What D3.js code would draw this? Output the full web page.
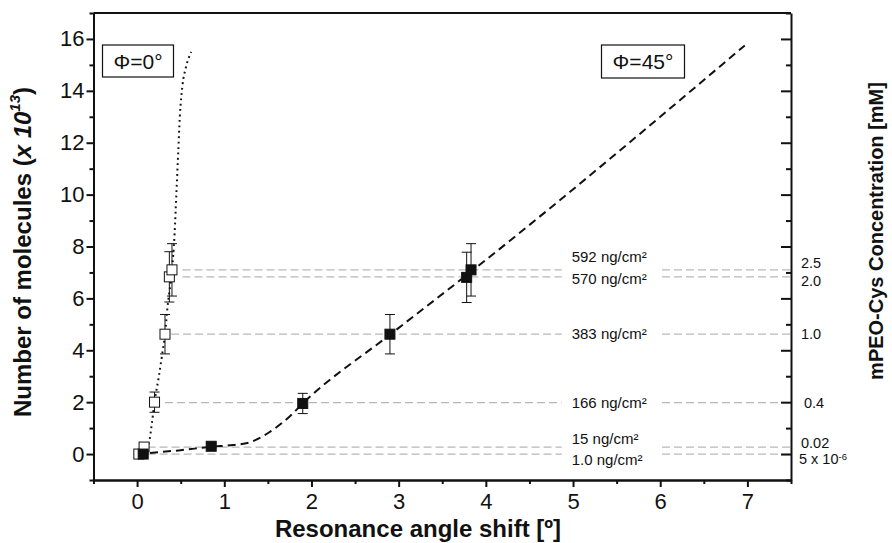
<!DOCTYPE html>
<html><head><meta charset="utf-8">
<script src="https://cdn.jsdelivr.net/npm/d3@7"></script>
<style>body{margin:0;background:#fff} svg text{font-family:"Liberation Sans",Arial,sans-serif;fill:#111}</style>
</head><body><svg id="c" width="892" height="543"></svg>
<script>
// ---- data ----
const xMajorTicks = [0,1,2,3,4,5,6,7];
const xMinorTicks = [-0.5,0.5,1.5,2.5,3.5,4.5,5.5,6.5,7.5];
const yMajorTicks = [0,2,4,6,8,10,12,14,16];
const yMinorTicks = [-1,1,3,5,7,9,11,13,15,17];
const rightTicks = [-1,0,1,2,3,4,5,6,7,8,9,10,11,12,13,14,15,16,17];

const phi0X = [0.02,0.08,0.20,0.32,0.37,0.40];
const phi0Y = [0.00,0.27,2.00,4.62,6.83,7.10];
const phi45X = [0.07,0.85,1.90,2.90,3.78,3.83];
const phi45Y = [0.00,0.30,1.95,4.62,6.81,7.10];
const errY = [0.05,0.10,0.39,0.76,0.97,1.01];

const fit0X = [0,0.06,0.10,0.14,0.17,0.20,0.25,0.29,0.32,0.35,0.38,0.40,0.43,0.45,0.47,0.49,0.52,0.56,0.62];
const fit0Y = [0,0.05,0.20,0.50,1.20,2.00,3.00,3.90,4.60,5.70,6.50,7.10,8.50,10.0,11.5,13.0,14.2,14.9,15.5];
const fit45X = [0,0.5,0.85,1.10,1.29,1.52,1.75,1.90,2.90,3.80,6.97];
const fit45Y = [0,0.15,0.28,0.35,0.45,0.85,1.45,1.95,4.60,6.95,15.75];

const levelY = [7.10,6.83,4.62,1.98,0.27,0.00];
const levelStartX = [0.52,0.52,0.39,0.32,0.12,0.12];
const massLabels = ["592 ng/cm²","570 ng/cm²","383 ng/cm²","166 ng/cm²","15 ng/cm²","1.0 ng/cm²"];
const concLabels = ["2.5","2.0","1.0","0.4","0.02","5 x 10"];
const concSup = ["","","","","","-6"];

// ---- styling / layout ----
const massDy = [-13,2,0,0,-8,6];
const concDy = [-6.5,4,0,0,-4,5];
const concDx = [0,0,0,3,0,-2];
const gapX = [4.87,6.02];

const svg = d3.select("#c");
const L=93.5, R=791, T=13, B=480;
const x = d3.scaleLinear().domain([-0.5,7.5]).range([L,R]);
const y = d3.scaleLinear().domain([-1,17]).range([B,T]);

// gray reference lines
const gl = svg.append("g").attr("stroke","#b8b8b8").attr("stroke-width",1.3).attr("stroke-dasharray","8,4").attr("fill","none");
levelY.forEach((v,i)=>{
  gl.append("line").attr("x1",x(levelStartX[i])).attr("x2",x(gapX[0])).attr("y1",y(v)).attr("y2",y(v));
  gl.append("line").attr("x1",x(gapX[1])).attr("x2",R).attr("y1",y(v)).attr("y2",y(v));
  svg.append("text").attr("x",x(gapX[0])+10).attr("y",y(v)+massDy[i]).attr("dy","0.35em")
    .attr("font-size",15).text(massLabels[i]);
  const t = svg.append("text").attr("x",R+10+concDx[i]).attr("y",y(v)+concDy[i]).attr("dy","0.35em")
    .attr("font-size",14.5).text(concLabels[i]);
  if (concSup[i]) t.append("tspan").attr("dy","-0.45em").attr("font-size",9.5).text(concSup[i]);
});

// fit curves
const line = d3.line().x(d=>x(d[0])).y(d=>y(d[1])).curve(d3.curveMonotoneX);
svg.append("path").datum(fit0X.map((v,i)=>[v,fit0Y[i]])).attr("d",line)
  .attr("fill","none").attr("stroke","#111").attr("stroke-width",2).attr("stroke-dasharray","1.8,3.6").attr("stroke-linecap","butt");
svg.append("path").datum(fit45X.map((v,i)=>[v,fit45Y[i]])).attr("d",line)
  .attr("fill","none").attr("stroke","#111").attr("stroke-width",2).attr("stroke-dasharray","8,5");

// error bars + points
function series(xs, ys, filled){
  const g = svg.append("g");
  xs.forEach((xv,i)=>{
    const cx=x(xv), y1=y(ys[i]-errY[i]), y2=y(ys[i]+errY[i]);
    g.append("line").attr("x1",cx).attr("x2",cx).attr("y1",y1).attr("y2",y2).attr("stroke","#111").attr("stroke-width",1);
    [y1,y2].forEach(yy=>g.append("line").attr("x1",cx-5).attr("x2",cx+5).attr("y1",yy).attr("y2",yy).attr("stroke","#111").attr("stroke-width",1));
  });
  xs.forEach((xv,i)=>{
    g.append("rect").attr("x",x(xv)-5).attr("y",y(ys[i])-5).attr("width",10).attr("height",10)
      .attr("fill",filled?"#111":"#fff").attr("stroke","#111").attr("stroke-width",1);
  });
}
series(phi0X, phi0Y, false);
series(phi45X, phi45Y, true);

// axes
function styleAxis(g){ g.selectAll("path,line").attr("stroke","#111").attr("stroke-width",2); g.selectAll("text").attr("font-size",22).attr("fill","#111"); }
svg.append("g").attr("transform",`translate(0,${B})`)
  .call(d3.axisBottom(x).tickValues(xMinorTicks).tickSize(4).tickSizeOuter(0).tickFormat("")).call(styleAxis);
svg.append("g").attr("transform",`translate(0,${B})`)
  .call(d3.axisBottom(x).tickValues(xMajorTicks).tickSize(7).tickPadding(6).tickSizeOuter(0).tickFormat(d3.format("d"))).call(styleAxis);
svg.append("g").attr("transform",`translate(${L},0)`)
  .call(d3.axisLeft(y).tickValues(yMinorTicks).tickSize(4).tickSizeOuter(0).tickFormat("")).call(styleAxis);
svg.append("g").attr("transform",`translate(${L},0)`)
  .call(d3.axisLeft(y).tickValues(yMajorTicks).tickSize(7).tickPadding(2).tickSizeOuter(0).tickFormat(d3.format("d"))).call(styleAxis);
svg.append("g").attr("transform",`translate(${R},0)`)
  .call(d3.axisLeft(y).tickValues(rightTicks).tickSize(0).tickSizeOuter(0).tickFormat("")).call(styleAxis)
  .selectAll(".tick line").attr("x2",d=>d%2===0?-10:-5);
svg.append("line").attr("x1",L).attr("x2",R).attr("y1",T).attr("y2",T).attr("stroke","#111").attr("stroke-width",2);

// boxes
function box(x0,y0,w,h,label){
  svg.append("rect").attr("x",x0).attr("y",y0).attr("width",w).attr("height",h).attr("fill","#fff").attr("stroke","#111").attr("stroke-width",1.2);
  svg.append("text").attr("x",x0+w/2).attr("y",y0+h/2).attr("dy","0.36em").attr("text-anchor","middle").attr("font-size",21).text(label);
}
box(102.5,45,71,32,"Φ=0°");
box(601.5,45,83,33,"Φ=45°");

// axis titles
svg.append("text").attr("x",418).attr("y",537).attr("text-anchor","middle").attr("font-size",24).attr("font-weight","bold").text("Resonance angle shift [º]");
const yt = svg.append("text").attr("transform","translate(31,252) rotate(-90)").attr("text-anchor","middle").attr("font-size",24).attr("font-weight","bold");
yt.append("tspan").text("Number of molecules (");
yt.append("tspan").attr("font-style","italic").text("x 10");
yt.append("tspan").attr("font-style","italic").attr("font-size",15).attr("dy","-0.75em").text("13");
yt.append("tspan").attr("dy","0.47em").text(")");
svg.append("text").attr("transform","translate(883,231) rotate(-90)").attr("text-anchor","middle").attr("font-size",20).attr("font-weight","bold").text("mPEO-Cys Concentration [mM]");
</script></body></html>
